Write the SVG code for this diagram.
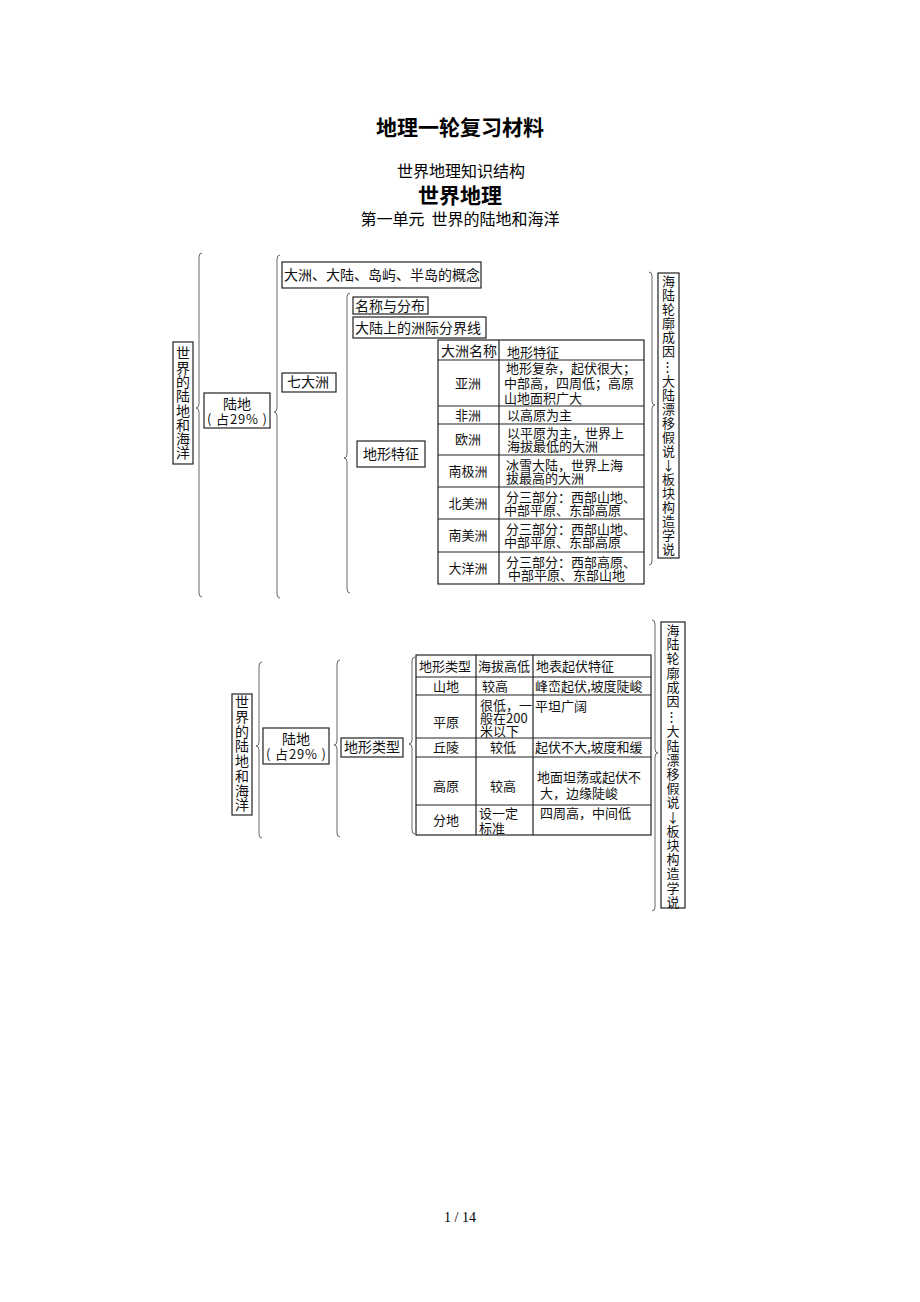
<svg xmlns="http://www.w3.org/2000/svg" width="920" height="1302" viewBox="0 0 920 1302">
<style>
.box{fill:#fff;stroke:#222;stroke-width:1.2}
.grid{fill:none;stroke:#222;stroke-width:1.2}
.brace{fill:none;stroke:#666;stroke-width:1}
.t{font-family:"Noto Sans CJK SC","Liberation Sans",sans-serif;font-size:13px;fill:#111}
.t14{font-family:"Noto Sans CJK SC","Liberation Sans",sans-serif;font-size:14px;fill:#111}
.c{text-anchor:middle}
.v{writing-mode:vertical-rl;text-orientation:upright}
.h{font-family:"Noto Sans CJK SC",sans-serif;fill:#000;text-anchor:middle}
</style>
<rect width="920" height="1302" fill="#fff"/>
<g id="titles">
<text class="h" x="460" y="135" font-size="21" font-weight="bold">地理一轮复习材料</text>
<text class="h" x="461" y="177" font-size="16">世界地理知识结构</text>
<text class="h" x="460" y="203" font-size="21" font-weight="bold">世界地理</text>
<text class="h" x="460" y="225" font-size="16" xml:space="preserve">第一单元  世界的陆地和海洋</text>
<text x="460" y="1222" font-family="Liberation Serif,serif" font-size="14" text-anchor="middle" fill="#000">1 / 14</text>
</g>
<g id="connectors">
<path class="brace" d="M202,253 Q199,253 199,257 V404 Q199,408 196,408 Q199,408 199,412 V593 Q199,597 202,597"/>
<path class="brace" d="M280,255 Q277,255 277,259 V408 Q277,412 274,412 Q277,412 277,416 V594 Q277,598 280,598"/>
<path class="brace" d="M350,293 Q347,293 347,297 V454 Q347,458 344,458 Q347,458 347,462 V589 Q347,593 350,593"/>
<path class="brace" d="M649,272 Q652,272 652,276 V401 Q652,405 655,405 Q652,405 652,409 V561 Q652,565 649,565"/>
<path class="brace" d="M262,662 Q259,662 259,666 V742 Q259,746 256,746 Q259,746 259,750 V834 Q259,838 262,838"/>
<path class="brace" d="M340,660 Q337,660 337,664 V741 Q337,745 334,745 Q337,745 337,749 V833 Q337,837 340,837"/>
<path class="brace" d="M415,657 Q412,657 412,661 V740 Q412,744 409,744 Q412,744 412,748 V830 Q412,834 415,834"/>
<path class="brace" d="M652,620 Q655,620 655,624 V749 Q655,753 658,753 Q655,753 655,757 V907 Q655,911 652,911"/>
</g>
<g id="n-world1">
<rect class="box" x="173" y="342" width="20" height="122"/>
<text class="t14 v" x="183" y="346" letter-spacing="0.3">世界的陆地和海洋</text>
</g>
<g id="n-land1">
<rect class="box" x="204" y="393" width="66" height="35"/>
<text class="t14 c" x="237" y="409">陆地</text>
<text class="t c" x="237" y="424" textLength="60" lengthAdjust="spacing" xml:space="preserve">( 占29% )</text>
</g>
<g id="n-concept">
<rect class="box" x="282" y="262" width="199" height="26"/>
<text class="t14" x="284" y="280">大洲、大陆、岛屿、半岛的概念</text>
</g>
<g id="n-seven">
<rect class="box" x="282" y="373" width="54" height="19"/>
<text class="t14" x="287" y="387">七大洲</text>
</g>
<g id="n-name">
<rect class="box" x="353" y="297" width="75" height="17"/>
<text class="t14" x="355" y="311">名称与分布</text>
</g>
<g id="n-boundary">
<rect class="box" x="353" y="317" width="133" height="21"/>
<text class="t14" x="355" y="333">大陆上的洲际分界线</text>
</g>
<g id="n-terrain1">
<rect class="box" x="357" y="441" width="68" height="26"/>
<text class="t14 c" x="391" y="459">地形特征</text>
</g>
<g id="n-table1">
<rect class="box" x="438" y="340" width="206" height="244"/>
<path class="grid" d="M499,340 V584 M438,360 H644 M438,406 H644 M438,424 H644 M438,455 H644 M438,487 H644 M438,519 H644 M438,552 H644"/>
<text class="t14" x="441" y="356">大洲名称</text>
<text class="t" x="507" y="357">地形特征</text>
<text class="t c" x="468" y="388">亚洲</text>
<text class="t"><tspan x="506" y="373">地形复杂，起伏很大；</tspan><tspan x="504" y="388">中部高，四周低；高原</tspan><tspan x="504" y="403">山地面积广大</tspan></text>
<text class="t c" x="468" y="420">非洲</text>
<text class="t" x="507" y="420">以高原为主</text>
<text class="t c" x="468" y="444">欧洲</text>
<text class="t"><tspan x="507" y="438">以平原为主，世界上</tspan><tspan x="507" y="451">海拔最低的大洲</tspan></text>
<text class="t c" x="468" y="476">南极洲</text>
<text class="t"><tspan x="506" y="470">冰雪大陆，世界上海</tspan><tspan x="506" y="483">拔最高的大洲</tspan></text>
<text class="t c" x="468" y="508">北美洲</text>
<text class="t"><tspan x="506" y="502">分三部分：西部山地、</tspan><tspan x="504" y="515">中部平原、东部高原</tspan></text>
<text class="t c" x="468" y="540">南美洲</text>
<text class="t"><tspan x="506" y="534">分三部分：西部山地、</tspan><tspan x="504" y="547">中部平原、东部高原</tspan></text>
<text class="t c" x="468" y="573">大洋洲</text>
<text class="t"><tspan x="506" y="567">分三部分：西部高原、</tspan><tspan x="508" y="580">中部平原、东部山地</tspan></text>
</g>
<g id="n-cause1">
<rect class="box" x="658" y="273" width="21" height="285"/>
<text class="t v" x="668.5" y="275" letter-spacing="1">海陆轮廓成因⋮大陆漂移假说↓板块构造学说</text>
</g>
<g id="n-world2">
<rect class="box" x="232" y="694" width="20" height="121"/>
<text class="t14 v" x="242" y="695" letter-spacing="0.7">世界的陆地和海洋</text>
</g>
<g id="n-land2">
<rect class="box" x="263" y="728" width="66" height="36"/>
<text class="t14 c" x="296" y="744">陆地</text>
<text class="t c" x="296" y="759" textLength="60" lengthAdjust="spacing" xml:space="preserve">( 占29% )</text>
</g>
<g id="n-types">
<rect class="box" x="341" y="738" width="62" height="19"/>
<text class="t14 c" x="372" y="752">地形类型</text>
</g>
<g id="n-table2">
<rect class="box" x="416" y="655" width="235" height="180"/>
<path class="grid" d="M476,655 V835 M533,655 V835 M416,677 H651 M416,695 H651 M416,738 H651 M416,757 H651 M416,805 H651"/>
<text class="t" x="419" y="671">地形类型</text>
<text class="t" x="478" y="671">海拔高低</text>
<text class="t" x="536" y="671">地表起伏特征</text>
<text class="t c" x="446" y="691">山地</text>
<text class="t c" x="495" y="691">较高</text>
<text class="t" x="535" y="691">峰峦起伏,坡度陡峻</text>
<text class="t c" x="446" y="727">平原</text>
<text class="t"><tspan x="480" y="710">很低，一</tspan><tspan x="480" y="723">般在200</tspan><tspan x="480" y="736">米以下</tspan></text>
<text class="t" x="535" y="711">平坦广阔</text>
<text class="t c" x="446" y="752">丘陵</text>
<text class="t c" x="503" y="752">较低</text>
<text class="t" x="535" y="752">起伏不大,坡度和缓</text>
<text class="t c" x="446" y="791">高原</text>
<text class="t c" x="503" y="791">较高</text>
<text class="t"><tspan x="537" y="782">地面坦荡或起伏不</tspan><tspan x="540" y="798">大，边缘陡峻</tspan></text>
<text class="t c" x="446" y="825">分地</text>
<text class="t"><tspan x="479" y="818">设一定</tspan><tspan x="479" y="833">标准</tspan></text>
<text class="t" x="540" y="818">四周高，中间低</text>
</g>
<g id="n-cause2">
<rect class="box" x="661" y="622" width="24" height="286"/>
<text class="t v" x="673" y="623.5" letter-spacing="1.2">海陆轮廓成因⋮大陆漂移假说↓板块构造学说</text>
</g>
</svg>
